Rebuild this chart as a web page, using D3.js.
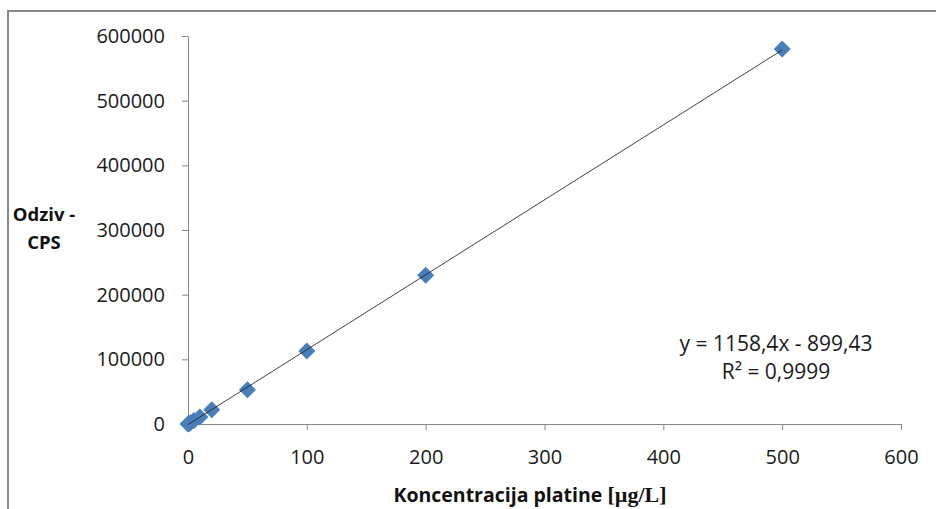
<!DOCTYPE html>
<html><head><meta charset="utf-8">
<script src="https://cdn.jsdelivr.net/npm/d3@7"></script>
<style>html,body{margin:0;padding:0;background:#fff;overflow:hidden}</style>
</head><body>
<script>
const concentrations = [0, 1, 2, 5, 10, 20, 50, 100, 200, 500];
const responses = [0, 900, 2000, 5300, 11000, 22000, 53000, 113000, 230000, 580000];
const xTicks = [0, 100, 200, 300, 400, 500, 600];
const yTicks = [0, 100000, 200000, 300000, 400000, 500000, 600000];
const trendSlope = 1158.4, trendIntercept = -899.43;
const equationLines = ["y = 1158,4x - 899,43", "R² = 0,9999"];
const yTitleLines = ["Odziv -", "CPS"];
const xTitle = "Koncentracija platine ";
const xTitleUnit = "[µg/L]";

const W = 936, H = 509;
const svg = d3.select("body").append("svg").attr("width", W).attr("height", H);
const font = "'Open Sans', sans-serif";

svg.append("rect").attr("x", 8).attr("y", 11).attr("width", W + 20).attr("height", H + 20)
  .attr("fill", "none").attr("stroke", "#888").attr("stroke-width", 2);

const x = d3.scaleLinear().domain([0, 600]).range([188, 901]);
const y = d3.scaleLinear().domain([0, 600000]).range([424, 36]);

const axisColor = "#868686";
const gx = svg.append("g").attr("transform", "translate(0,424)")
  .call(d3.axisBottom(x).tickValues(xTicks).tickSize(6).tickPadding(20).tickSizeOuter(0));
const gy = svg.append("g").attr("transform", "translate(188,0)")
  .call(d3.axisLeft(y).tickValues(yTicks).tickSize(6).tickPadding(17).tickSizeOuter(0).tickFormat(d3.format("d")));
[gx, gy].forEach(g => {
  g.select(".domain").attr("stroke", axisColor).attr("stroke-width", 1);
  g.selectAll(".tick line").attr("stroke", axisColor);
  g.selectAll(".tick text").attr("fill", "#1a1a1a").style("font-family", font).style("font-size", "20px");
});

// markers
const pts = concentrations.map((c, i) => [c, responses[i]]);
svg.append("g").selectAll("path").data(pts).join("path")
  .attr("transform", d => `translate(${x(d[0])},${y(d[1])})`)
  .attr("d", "M0,-8.5L8.5,0L0,8.5L-8.5,0Z")
  .attr("fill", "#4a7ebb");

// trendline drawn over markers
svg.append("line")
  .attr("x1", x(0)).attr("y1", y(trendSlope * 0 + trendIntercept))
  .attr("x2", x(500)).attr("y2", y(trendSlope * 500 + trendIntercept))
  .attr("stroke", "#222").attr("stroke-width", 1).attr("opacity", 0.85);

// equation
svg.append("text").attr("x", 776).attr("y", 351).attr("text-anchor", "middle")
  .style("font-family", font).style("font-size", "21px").attr("fill", "#1a1a1a").text(equationLines[0]);
svg.append("text").attr("x", 776).attr("y", 379).attr("text-anchor", "middle")
  .style("font-family", font).style("font-size", "21px").attr("fill", "#1a1a1a").text(equationLines[1]);

// y title
yTitleLines.forEach((t, i) => {
  svg.append("text").attr("x", 44).attr("y", 221 + i * 28).attr("text-anchor", "middle")
    .style("font-family", font).style("font-weight", "bold").style("font-size", "18.5px").attr("fill", "#111").text(t);
});

// x title
const xt = svg.append("text").attr("x", 530).attr("y", 502).attr("text-anchor", "middle")
  .style("font-family", font).style("font-weight", "bold").style("font-size", "19.5px").attr("fill", "#111");
xt.append("tspan").text(xTitle);
xt.append("tspan").style("font-family", "'Liberation Serif', serif").style("font-size", "22px").text(xTitleUnit);
</script>
</body></html>
